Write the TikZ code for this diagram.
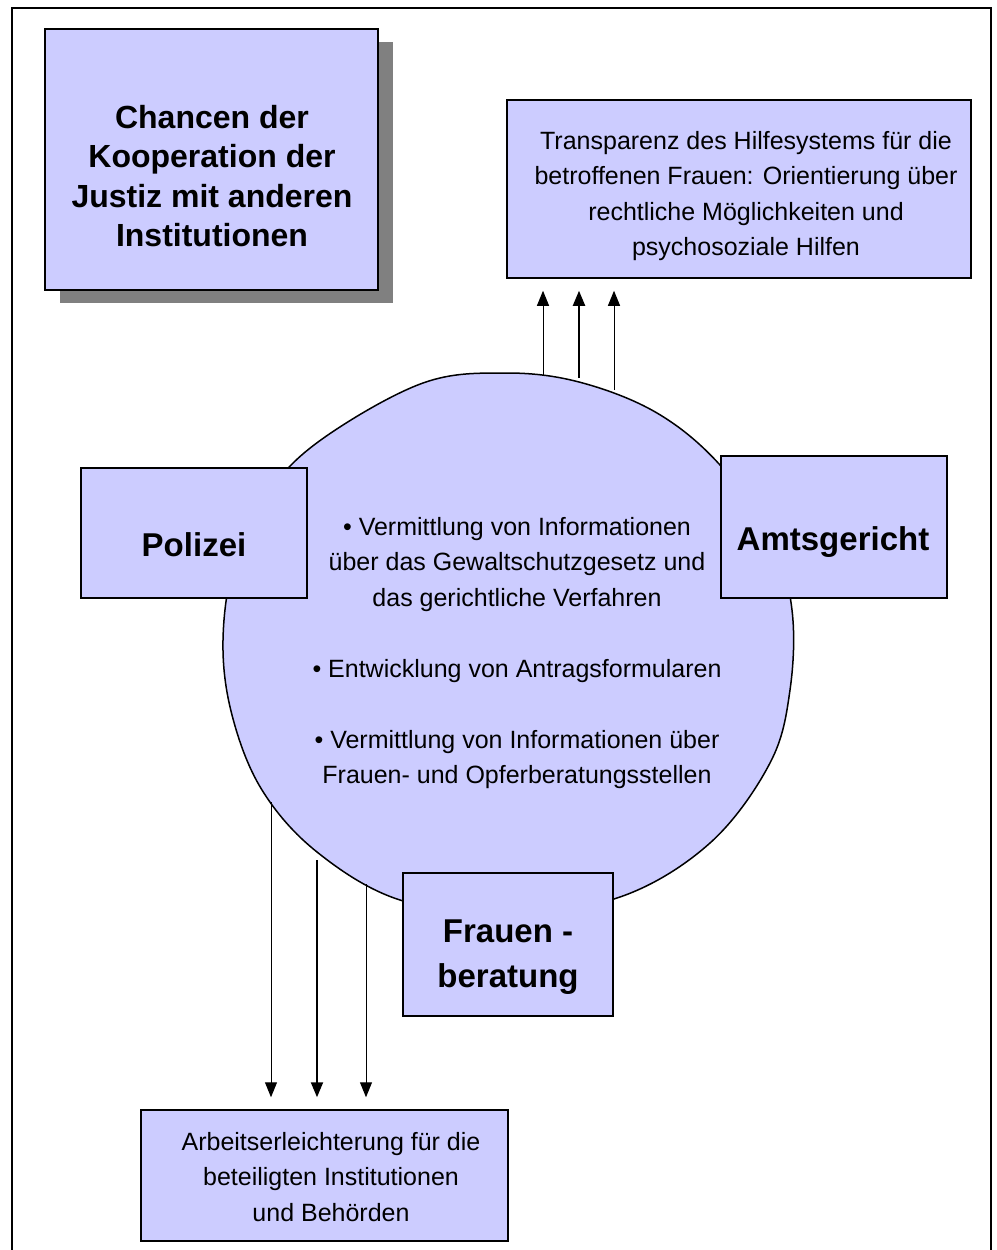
\documentclass[tikz,border=0pt]{standalone}
\usepackage{fontspec}
\setmainfont{Liberation Sans}
\usetikzlibrary{arrows.meta,shadows}

\definecolor{lila}{RGB}{204,204,255}
\definecolor{schatten}{RGB}{128,128,128}

\tikzset{
    kasten/.style={draw, line width=1.5pt, fill=lila, inner sep=0pt},
    normal/.style={font=\fontsize{25}{35.5}\selectfont, align=center},
    fett/.style={font=\bfseries\fontsize{33}{45}\selectfont, align=center},
    pfeil/.style={-{Triangle[width=12pt,length=15pt]}, line width=1pt, shorten >=12pt},
}

\begin{document}
\begin{tikzpicture}[x=1pt, y=-1pt]
    \useasboundingbox (0,0) rectangle (996,1250);
    \draw[line width=1.5pt] (12,1260) -- (12,8) -- (991,8) -- (991,1260);

    % Kreis in der Mitte
    \draw[line width=1.5pt, fill=lila] plot[smooth cycle, tension=0.6] coordinates {
        (504,373) (579,382) (657,413) (720,465) (772,540) (792,610) (790,690)
        (770,763) (710,843) (620,897) (508,913) (400,900) (317,852) (262,790)
        (232,715) (223,640) (235,560) (270,490) (325,437) (423,383)};
    \node (inhalt) at (517,653) [normal] {\textbullet\ Vermittlung von Informationen\\
        über das Gewaltschutzgesetz und\\ das gerichtliche Verfahren\\[35.5pt]
        \textbullet\ Entwicklung von Antragsformularen\\[35.5pt]
        \textbullet\ Vermittlung von Informationen über\\ Frauen- und Opferberatungsstellen};

    % Kaesten
    \node (titel) at (211.5,159.5) [kasten, minimum width=333pt, minimum height=261pt,
        drop shadow={shadow xshift=15pt, shadow yshift=-13pt, fill=schatten, opacity=1}] {};
    \node at (212,176) [fett, font=\bfseries\fontsize{32}{39.3}\selectfont]
        {Chancen der\\ Kooperation der\\ Justiz mit anderen\\ Institutionen};

    \node (transparenz) at (739,189) [kasten, minimum width=464pt, minimum height=178pt] {};
    \node at (746,196) [normal] {Transparenz des Hilfesystems für die\\
        betroffenen Frauen: Orientierung über\\ rechtliche Möglichkeiten und\\ psychosoziale Hilfen};

    \node (polizei) at (194,533) [kasten, minimum width=226pt, minimum height=130pt] {};
    \node at (194,545) [fett] {Polizei};

    \node (amtsgericht) at (834,527) [kasten, minimum width=226pt, minimum height=142pt] {};
    \node at (833,542) [fett] {Amtsgericht};

    \node (beratung) at (508,944.5) [kasten, minimum width=210pt, minimum height=143pt] {};
    \node at (508,957) [fett] {Frauen -\\ beratung};

    \node (erleichterung) at (324.5,1175.5) [kasten, minimum width=367pt, minimum height=131pt] {};
    \node at (331,1177) [normal] {Arbeitserleichterung für die\\ beteiligten Institutionen\\ und Behörden};

    % Pfeile
    \coordinate (o1) at (543,376);
    \coordinate (o2) at (579,378);
    \coordinate (o3) at (614,390);
    \coordinate (u1) at (271,802);
    \coordinate (u2) at (317,860);
    \coordinate (u3) at (366,884);
    \draw[pfeil] (o1) -- (o1 |- transparenz.south);
    \draw[pfeil, line width=2pt] (o2) -- (o2 |- transparenz.south);
    \draw[pfeil] (o3) -- (o3 |- transparenz.south);
    \draw[pfeil] (u1) -- (u1 |- erleichterung.north);
    \draw[pfeil, line width=2pt] (u2) -- (u2 |- erleichterung.north);
    \draw[pfeil] (u3) -- (u3 |- erleichterung.north);
\end{tikzpicture}
\end{document}
